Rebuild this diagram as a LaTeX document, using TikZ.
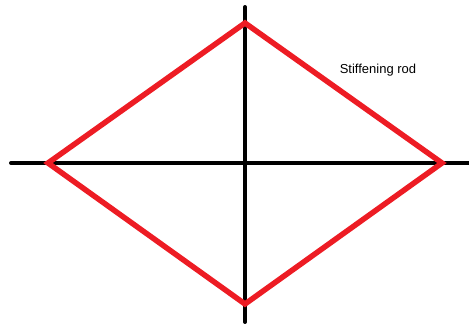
\documentclass[tikz,border=0pt]{standalone}
\usepackage{fontspec}
\setmainfont{Liberation Sans}
\definecolor{paintred}{HTML}{ED1C24}
\tikzset{
  axis/.style={line width=4pt, black, line cap=round},
  rod/.style={line width=5.5pt, paintred, line join=miter},
  lbl/.style={font=\fontsize{13}{15}\selectfont, inner sep=0pt}
}
\begin{document}
\begin{tikzpicture}[x=1pt,y=-1pt]
\useasboundingbox (0,0) rectangle (469,324);
\coordinate (hl) at (11,163);
\coordinate (hr) at (471,163);
\coordinate (vt) at (245,7);
\coordinate (vb) at (245,322);
\draw[axis] (hl) -- (hr);
\draw[axis] (vt) -- (vb);
\coordinate (top) at (245,23);
\coordinate (left) at (48,163);
\coordinate (right) at (442,163);
\coordinate (bottom) at (245,304);
\draw[rod] (top) -- (right) -- (bottom) -- (left) -- cycle;
\node[lbl] (label) at (378,70) {Stiffening rod};
\end{tikzpicture}
\end{document}
